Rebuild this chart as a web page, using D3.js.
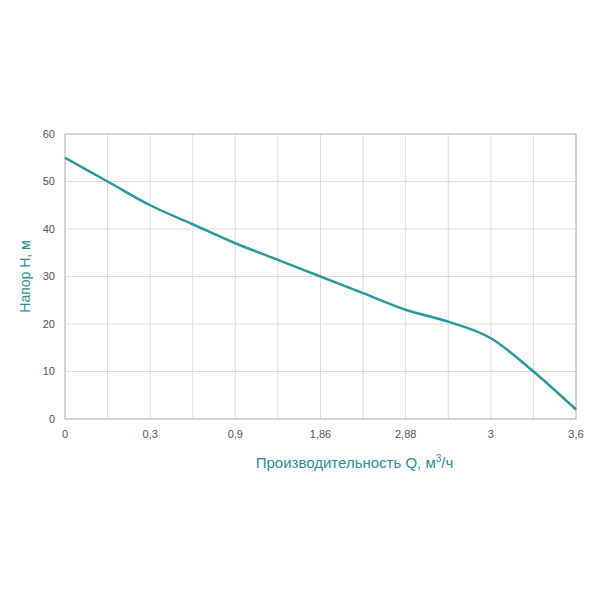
<!DOCTYPE html>
<html><head><meta charset="utf-8">
<script src="https://cdn.jsdelivr.net/npm/d3@7"></script>
<style>body{margin:0;background:#fff;font-family:"Liberation Sans",Arial,sans-serif}</style>
</head><body>
<script>
// x tick labels sit on every second grid line (equal spacing, not proportional)
var xTickLabels = ["0", "0,3", "0,9", "1,86", "2,88", "3", "3,6"];
// head H at each vertical grid line (0..12)
var gridIndex = [0, 1, 2, 3, 4, 5, 6, 7, 8, 9, 10, 11, 12];
var headValues = [55, 50, 45, 41, 37, 33.5, 30, 26.5, 23, 20.5, 17, 10, 2];
var yTicks = [0, 10, 20, 30, 40, 50, 60];

var margin = {top: 134, right: 24, bottom: 181, left: 65},
    width = 600 - margin.left - margin.right,
    height = 600 - margin.top - margin.bottom;

var svg = d3.select("body").append("svg")
    .attr("width", 600).attr("height", 600)
    .append("g")
    .attr("transform", "translate(" + margin.left + "," + margin.top + ")");

var x = d3.scaleLinear().domain([0, 12]).range([0, width]);
var y = d3.scaleLinear().domain([0, 60]).range([height, 0]);

// grid
svg.selectAll(".vg").data(gridIndex).enter().append("line")
    .attr("x1", function(d) { return x(d); }).attr("x2", function(d) { return x(d); })
    .attr("y1", 0).attr("y2", height)
    .attr("stroke", "#dcdcdc");
svg.selectAll(".hg").data(yTicks).enter().append("line")
    .attr("x1", 0).attr("x2", width)
    .attr("y1", function(d) { return y(d); }).attr("y2", function(d) { return y(d); })
    .attr("stroke", "#dcdcdc");
svg.append("rect").attr("width", width).attr("height", height)
    .attr("fill", "none").attr("stroke", "#bbb");

// tick labels
svg.selectAll(".yl").data(yTicks).enter().append("text")
    .attr("x", -10).attr("y", function(d) { return y(d); })
    .attr("dy", "0.35em").attr("text-anchor", "end")
    .attr("font-size", 11).attr("fill", "#555")
    .text(function(d) { return d; });
svg.selectAll(".xl").data(xTickLabels).enter().append("text")
    .attr("x", function(d, i) { return x(i * 2); }).attr("y", height + 19)
    .attr("text-anchor", "middle")
    .attr("font-size", 11).attr("fill", "#555")
    .text(function(d) { return d; });

// curve
var line = d3.line()
    .x(function(d, i) { return x(gridIndex[i]); })
    .y(function(d) { return y(d); })
    .curve(d3.curveMonotoneX);
svg.append("path").datum(headValues)
    .attr("d", line)
    .attr("fill", "none").attr("stroke", "#2a9a9c").attr("stroke-width", 2.5);

// axis titles
var xt = svg.append("text")
    .attr("x", width / 2 + 34).attr("y", height + 49)
    .attr("text-anchor", "middle").attr("font-size", 15).attr("fill", "#2a8f92");
xt.append("tspan").text("Производительность Q, м");
xt.append("tspan").attr("font-size", 10).attr("dy", -6).text("3");
xt.append("tspan").attr("dy", 6).text("/ч");

svg.append("text")
    .attr("transform", "translate(-35," + (height / 2) + ") rotate(-90)")
    .attr("text-anchor", "middle").attr("font-size", 14).attr("fill", "#2a8f92")
    .text("Напор H, м");
</script>
</body></html>
